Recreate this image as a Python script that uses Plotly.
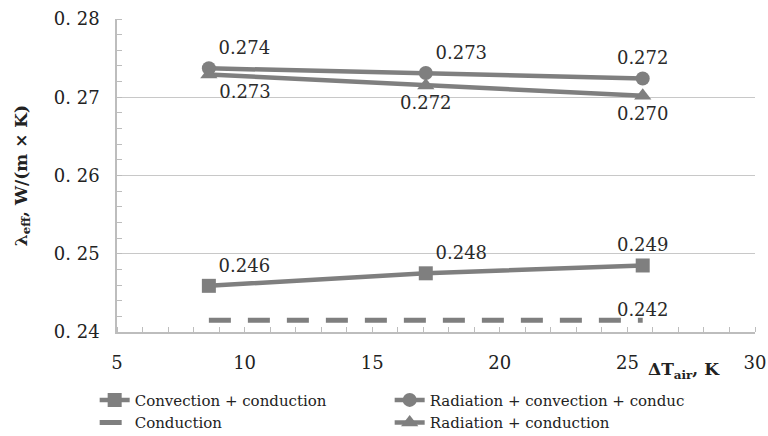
import plotly.graph_objects as go

# Data
dT = [8.6, 17.1, 25.6]
conv_cond = [0.2459, 0.2475, 0.2485]
rad_conv_cond = [0.2737, 0.2731, 0.2724]
conduction = [0.2415, 0.2415, 0.2415]
rad_cond = [0.2729, 0.2715, 0.2702]
lbl_conv_cond = ["0.246", "0.248", "0.249"]
lbl_rad_conv_cond = ["0.274", "0.273", "0.272"]
lbl_conduction = "0.242"
lbl_rad_cond = ["0.273", "0.272", "0.270"]

GRAY = "#7f7f7f"
FONT = "DejaVu Serif"
lblfont = dict(family=FONT, size=18, color="#2a2a2a")

fig = go.Figure()
fig.add_trace(go.Scatter(
    x=dT, y=conv_cond, name="Convection + conduction", mode="lines+markers+text",
    line=dict(color=GRAY, width=4.5), marker=dict(symbol="square", size=14, color=GRAY),
    text=lbl_conv_cond, textposition=["top right", "top right", "top center"], textfont=lblfont))
fig.add_trace(go.Scatter(
    x=dT, y=rad_conv_cond, name="Radiation + convection + conduction", mode="lines+markers+text",
    line=dict(color=GRAY, width=4.5), marker=dict(symbol="circle", size=14, color=GRAY),
    text=lbl_rad_conv_cond, textposition=["top right", "top right", "top center"], textfont=lblfont))
fig.add_trace(go.Scatter(
    x=dT, y=conduction, name="Conduction", mode="lines",
    line=dict(color=GRAY, width=5, dash="22px,17px")))
fig.add_trace(go.Scatter(
    x=dT[-1:], y=conduction[-1:], mode="text", showlegend=False,
    text=[lbl_conduction], textposition="top center", textfont=lblfont))
fig.add_trace(go.Scatter(
    x=dT, y=rad_cond, name="Radiation + conduction", mode="lines+markers+text",
    line=dict(color=GRAY, width=4.5), marker=dict(symbol="triangle-up", size=15, color=GRAY),
    text=lbl_rad_cond, textposition=["bottom right", "bottom center", "bottom center"], textfont=lblfont))

fig.update_layout(
    width=768, height=436,
    margin=dict(l=117, r=13, t=19, b=104, autoexpand=False),
    paper_bgcolor="white", plot_bgcolor="white",
    font=dict(family=FONT, size=16, color="#222"),
    showlegend=True,
    legend=dict(orientation="h", x=-0.035, y=-0.165, xanchor="left", yanchor="top",
                entrywidth=250, entrywidthmode="pixels", tracegroupgap=0,
                itemwidth=30, font=dict(family=FONT, size=15, color="#222"),
                traceorder="normal", bgcolor="rgba(0,0,0,0)"),
    xaxis=dict(range=[5, 30], tickvals=[5, 10, 15, 20, 25, 30], showgrid=False,
               showline=True, linecolor="#bdbdbd", linewidth=1.5,
               ticks="", ticklabelstandoff=14,
               minor=dict(dtick=1, ticks="inside", ticklen=5, tickcolor="#bdbdbd"),
               tickfont=dict(family=FONT, size=18, color="#222"), zeroline=False),
    yaxis=dict(range=[0.24, 0.28], tickvals=[0.24, 0.25, 0.26, 0.27, 0.28],
               ticktext=["0. 24", "0. 25", "0. 26", "0. 27", "0. 28"],
               showgrid=True, gridcolor="#c8c8c8", gridwidth=1,
               showline=True, linecolor="#bdbdbd", linewidth=1.5, ticks="",
               ticklabelstandoff=12,
               minor=dict(dtick=0.002, ticks="inside", ticklen=5, tickcolor="#bdbdbd", showgrid=False),
               tickfont=dict(family=FONT, size=18, color="#222"), zeroline=False,
               title=dict(text="<b>λ<sub>eff</sub>, W/(m × K)</b>", standoff=22,
                          font=dict(family=FONT, size=17, color="#222"))),
)
fig.add_annotation(x=27.2, y=0.24, xref="x", yref="y", yshift=-38,
                   text="<b>ΔT<sub>air</sub>, K</b>", showarrow=False,
                   font=dict(family=FONT, size=17, color="#222"))
fig.write_html("out.html")
